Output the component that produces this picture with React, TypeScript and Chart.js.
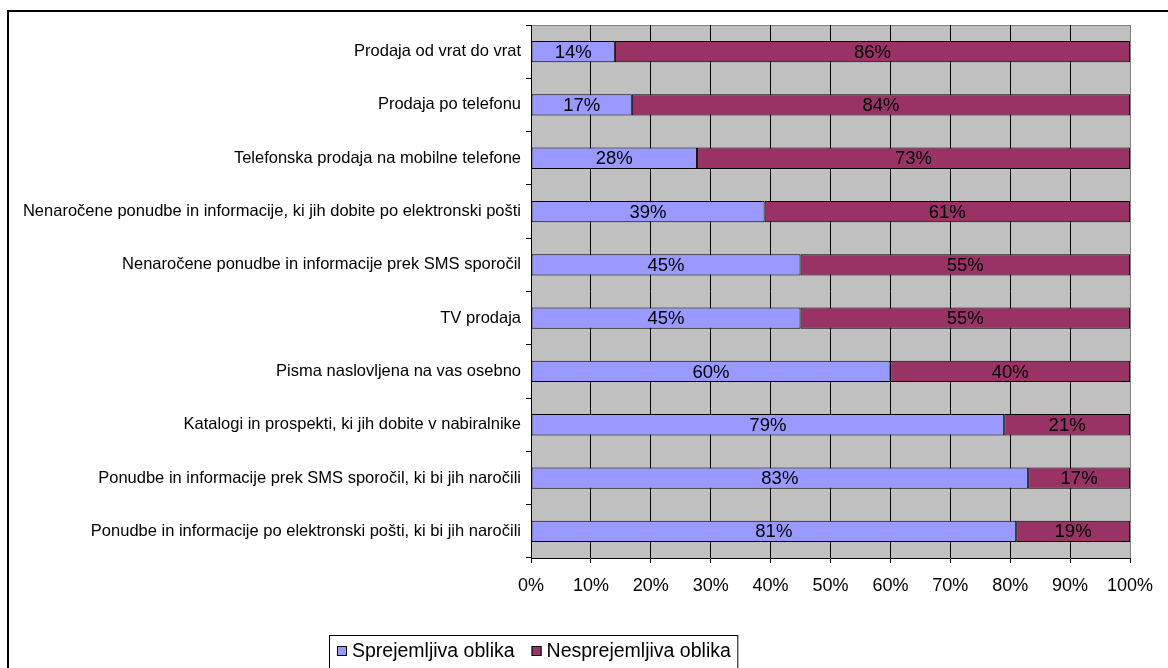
import React, { useEffect, useRef } from "react";
import { Chart, registerables } from "chart.js";

Chart.register(...registerables);

const categories = [
  "Prodaja od vrat do vrat",
  "Prodaja po telefonu",
  "Telefonska prodaja na mobilne telefone",
  "Nenaročene ponudbe in informacije, ki jih dobite po elektronski pošti",
  "Nenaročene ponudbe in informacije prek SMS sporočil",
  "TV prodaja",
  "Pisma naslovljena na vas osebno",
  "Katalogi in prospekti, ki jih dobite v nabiralnike",
  "Ponudbe in informacije prek SMS sporočil, ki bi jih naročili",
  "Ponudbe in informacije po elektronski pošti, ki bi jih naročili",
];

const acceptable = [14, 17, 28, 39, 45, 45, 60, 79, 83, 81];
const unacceptable = [86, 84, 73, 61, 55, 55, 40, 21, 17, 19];

const seriesNames = ["Sprejemljiva oblika", "Nesprejemljiva oblika"];
const seriesColors = ["#9999FF", "#993366"];

const xTicks = [0, 10, 20, 30, 40, 50, 60, 70, 80, 90, 100];

const FONT = "'Liberation Sans', Arial, sans-serif";
const W = 1180;
const H = 680;

// 100% stacked: each segment is its share of the row total
const share = (a: number[], b: number[]) => a.map((v, i) => (v / (v + b[i])) * 100);

const plotBackground = {
  id: "plotBackground",
  beforeDraw(chart: any) {
    const { ctx, chartArea: a } = chart;
    ctx.save();
    ctx.fillStyle = "#C0C0C0";
    ctx.fillRect(a.left, a.top, a.right - a.left, a.bottom - a.top);
    ctx.strokeStyle = "#808080";
    ctx.lineWidth = 1;
    ctx.beginPath();
    ctx.moveTo(a.left, a.top + 0.5);
    ctx.lineTo(a.right, a.top + 0.5);
    ctx.stroke();
    ctx.restore();
  },
};

const rawLabels = [acceptable, unacceptable];

const barLabels = {
  id: "barLabels",
  afterDatasetsDraw(chart: any) {
    const { ctx } = chart;
    ctx.save();
    ctx.font = `18.5px ${FONT}`;
    ctx.fillStyle = "#000";
    ctx.textAlign = "center";
    ctx.textBaseline = "middle";
    chart.data.datasets.forEach((_: any, di: number) => {
      const meta = chart.getDatasetMeta(di);
      meta.data.forEach((bar: any, i: number) => {
        const cx = (bar.x + bar.base) / 2;
        ctx.fillText(`${rawLabels[di][i]}%`, cx, bar.y + 1);
      });
    });
    ctx.restore();
  },
};

const frameAndLegend = {
  id: "frameAndLegend",
  afterDraw(chart: any) {
    const { ctx } = chart;
    ctx.save();
    // outer chart frame
    ctx.strokeStyle = "#000";
    ctx.lineWidth = 2;
    ctx.strokeRect(8, 11, W - 4, H - 4);

    // legend
    ctx.font = `19.5px ${FONT}`;
    ctx.textBaseline = "middle";
    ctx.textAlign = "left";
    const boxLeft = 329.5;
    const boxTop = 635.5;
    let x = 337;
    const cy = 651;
    chart.data.datasets.forEach((ds: any) => {
      ctx.fillStyle = ds.backgroundColor;
      ctx.fillRect(x, cy - 5, 10, 10);
      ctx.strokeStyle = "#000";
      ctx.lineWidth = 1;
      ctx.strokeRect(x + 0.5, cy - 4.5, 9, 9);
      ctx.fillStyle = "#000";
      ctx.fillText(ds.label, x + 15, cy + 1);
      x += 15 + ctx.measureText(ds.label).width + 17;
    });
    const boxRight = x - 17 + 7;
    ctx.strokeStyle = "#000";
    ctx.lineWidth = 1;
    ctx.strokeRect(boxLeft, boxTop, boxRight - boxLeft, 60);
    ctx.restore();
  },
};

export default function App() {
  const ref = useRef<HTMLCanvasElement>(null);

  useEffect(() => {
    if (!ref.current) return;
    Chart.defaults.font.family = FONT;
    const chart = new Chart(ref.current, {
      type: "bar",
      data: {
        labels: categories,
        datasets: [
          {
            label: seriesNames[0],
            data: share(acceptable, unacceptable),
            backgroundColor: seriesColors[0],
            borderColor: "#000",
            borderWidth: 1,
            borderSkipped: false,
            categoryPercentage: 1,
            barPercentage: 0.4,
          },
          {
            label: seriesNames[1],
            data: share(unacceptable, acceptable),
            backgroundColor: seriesColors[1],
            borderColor: "#000",
            borderWidth: 1,
            borderSkipped: false,
            categoryPercentage: 1,
            barPercentage: 0.4,
          },
        ],
      },
      options: {
        indexAxis: "y",
        responsive: false,
        animation: false,
        layout: { padding: { left: 0, top: 25, right: W - 1130, bottom: 82 } },
        plugins: {
          legend: { display: false },
          tooltip: { enabled: false },
        },
        scales: {
          x: {
            stacked: true,
            min: 0,
            max: 100,
            afterBuildTicks: (scale: any) => {
              scale.ticks = xTicks.map((v) => ({ value: v }));
            },
            afterFit: (scale: any) => {
              scale.height = 40;
            },
            ticks: {
              callback: (v: any) => `${v}%`,
              font: { size: 18, family: FONT },
              color: "#000",
              padding: 12,
              maxRotation: 0,
              autoSkip: false,
            },
            grid: {
              color: (c: any) => (c.tick && c.tick.value === 100 ? "#808080" : "#000"),
              tickLength: 5,
              tickColor: "#000",
              lineWidth: 1,
            },
            border: { display: true, color: "#000", width: 1 },
          },
          y: {
            stacked: true,
            afterFit: (scale: any) => {
              scale.width = 531;
            },
            ticks: {
              font: { size: 16.5, family: FONT },
              color: "#000",
              padding: 5,
              autoSkip: false,
            },
            grid: {
              drawOnChartArea: false,
              tickLength: 5,
              color: "#000",
            },
            border: { display: true, color: "#000", width: 1 },
          },
        },
      },
      plugins: [plotBackground, barLabels, frameAndLegend],
    });
    return () => chart.destroy();
  }, []);

  return (
    <div
      style={{
        position: "fixed",
        left: 0,
        top: 0,
        width: 1168,
        height: 668,
        overflow: "hidden",
        background: "#fff",
      }}
    >
      <canvas ref={ref} width={W} height={H} style={{ display: "block", width: W, height: H }} />
    </div>
  );
}
